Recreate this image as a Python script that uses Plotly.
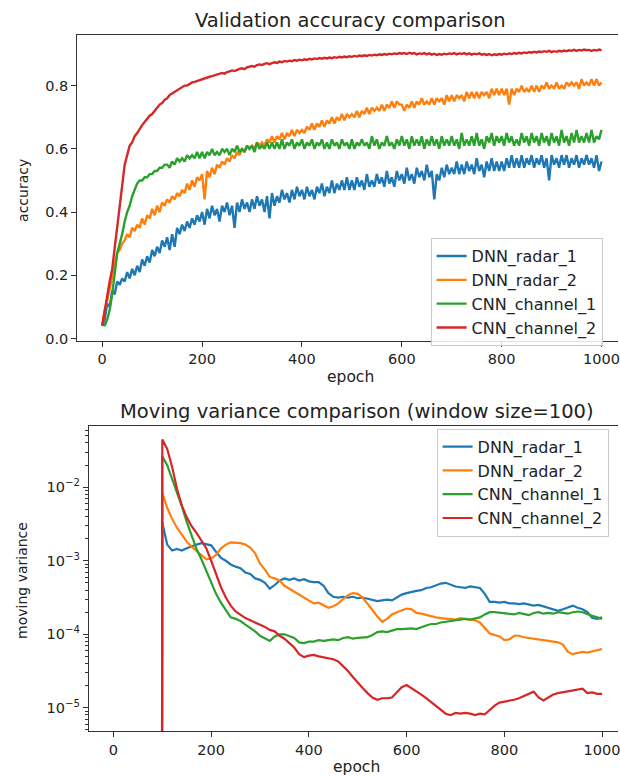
import plotly.graph_objects as go

# ---------------- data ----------------
series_names = ["DNN_radar_1", "DNN_radar_2", "CNN_channel_1", "CNN_channel_2"]
series_colors = ["#1f77b4", "#ff7f0e", "#2ca02c", "#d62728"]

acc_epochs = list(range(0, 1001, 5))

acc_dnn_radar_1 = [
    0.04, 0.06, 0.11, 0.10, 0.15, 0.14, 0.18, 0.17, 0.19, 0.18,
    0.21, 0.19, 0.22, 0.20, 0.23, 0.21, 0.25, 0.23, 0.26, 0.24,
    0.28, 0.26, 0.29, 0.27, 0.31, 0.29, 0.32, 0.28, 0.33, 0.29,
    0.35, 0.33, 0.36, 0.34, 0.37, 0.35, 0.38, 0.36, 0.39, 0.37,
    0.40, 0.36, 0.41, 0.38, 0.42, 0.39, 0.41, 0.37, 0.42, 0.40,
    0.43, 0.39, 0.42, 0.35, 0.43, 0.40, 0.44, 0.41, 0.43, 0.40,
    0.44, 0.41, 0.45, 0.42, 0.44, 0.40, 0.45, 0.38, 0.46, 0.42,
    0.45, 0.43, 0.47, 0.44, 0.46, 0.43, 0.47, 0.44, 0.48, 0.45,
    0.47, 0.44, 0.48, 0.45, 0.47, 0.44, 0.48, 0.46, 0.49, 0.45,
    0.48, 0.46, 0.50, 0.46, 0.49, 0.47, 0.50, 0.47, 0.51, 0.47,
    0.50, 0.47, 0.51, 0.48, 0.50, 0.47, 0.52, 0.48, 0.50, 0.48,
    0.52, 0.49, 0.51, 0.48, 0.53, 0.49, 0.51, 0.48, 0.53, 0.50,
    0.52, 0.49, 0.54, 0.50, 0.52, 0.49, 0.54, 0.51, 0.53, 0.50,
    0.55, 0.51, 0.53, 0.44, 0.52, 0.50, 0.54, 0.51, 0.55, 0.52,
    0.54, 0.52, 0.56, 0.52, 0.55, 0.52, 0.56, 0.53, 0.55, 0.52,
    0.57, 0.53, 0.55, 0.51, 0.56, 0.53, 0.57, 0.53, 0.56, 0.53,
    0.56, 0.53, 0.57, 0.54, 0.58, 0.54, 0.57, 0.54, 0.58, 0.54,
    0.57, 0.55, 0.58, 0.54, 0.57, 0.55, 0.58, 0.54, 0.57, 0.50,
    0.58, 0.55, 0.57, 0.54, 0.58, 0.55, 0.58, 0.54, 0.57, 0.55,
    0.58, 0.54, 0.57, 0.55, 0.58, 0.55, 0.57, 0.54, 0.58, 0.53,
    0.56,
]

acc_dnn_radar_2 = [
    0.04, 0.09, 0.12, 0.16, 0.20, 0.24, 0.27, 0.28, 0.30, 0.31,
    0.33, 0.32, 0.35, 0.34, 0.36, 0.35, 0.38, 0.36, 0.39, 0.38,
    0.41, 0.39, 0.42, 0.40, 0.43, 0.42, 0.44, 0.43, 0.45, 0.44,
    0.46, 0.45, 0.47, 0.46, 0.49, 0.47, 0.50, 0.48, 0.51, 0.50,
    0.52, 0.44, 0.53, 0.51, 0.54, 0.52, 0.55, 0.54, 0.56, 0.55,
    0.57, 0.56, 0.58, 0.57, 0.59, 0.58, 0.60, 0.59, 0.61, 0.60,
    0.61, 0.60, 0.62, 0.61, 0.62, 0.61, 0.63, 0.62, 0.64, 0.62,
    0.64, 0.63, 0.65, 0.63, 0.65, 0.64, 0.66, 0.64, 0.66, 0.65,
    0.66, 0.65, 0.67, 0.66, 0.68, 0.66, 0.68, 0.67, 0.69, 0.67,
    0.69, 0.68, 0.70, 0.68, 0.70, 0.69, 0.71, 0.69, 0.71, 0.70,
    0.71, 0.70, 0.72, 0.70, 0.72, 0.71, 0.73, 0.71, 0.73, 0.72,
    0.73, 0.72, 0.74, 0.72, 0.74, 0.73, 0.75, 0.73, 0.75, 0.74,
    0.74, 0.72, 0.74, 0.73, 0.75, 0.73, 0.75, 0.74, 0.76, 0.74,
    0.75, 0.74, 0.76, 0.74, 0.76, 0.75, 0.76, 0.74, 0.77, 0.75,
    0.77, 0.75, 0.77, 0.76, 0.77, 0.75, 0.78, 0.76, 0.78, 0.76,
    0.78, 0.76, 0.78, 0.77, 0.78, 0.76, 0.79, 0.77, 0.79, 0.77,
    0.79, 0.77, 0.79, 0.74, 0.79, 0.77, 0.79, 0.78, 0.80, 0.78,
    0.79, 0.78, 0.80, 0.78, 0.80, 0.78, 0.80, 0.79, 0.81, 0.79,
    0.80, 0.79, 0.81, 0.79, 0.80, 0.79, 0.81, 0.80, 0.81, 0.80,
    0.81, 0.79, 0.82, 0.80, 0.81, 0.80, 0.82, 0.80, 0.82, 0.80,
    0.81,
]

acc_cnn_channel_1 = [
    0.05, 0.04, 0.06, 0.09, 0.14, 0.21, 0.27, 0.30, 0.33, 0.37,
    0.40, 0.42, 0.45, 0.47, 0.49, 0.50, 0.50, 0.51, 0.51, 0.52,
    0.52, 0.53, 0.53, 0.54, 0.54, 0.55, 0.55, 0.54, 0.56, 0.55,
    0.57, 0.56, 0.57, 0.56, 0.58, 0.57, 0.58, 0.57, 0.59, 0.57,
    0.59, 0.57, 0.59, 0.58, 0.60, 0.58, 0.59, 0.58, 0.60, 0.59,
    0.60, 0.58, 0.60, 0.59, 0.61, 0.59, 0.60, 0.59, 0.61, 0.60,
    0.61, 0.59, 0.62, 0.60, 0.61, 0.60, 0.62, 0.60, 0.62, 0.60,
    0.62, 0.60, 0.63, 0.60, 0.62, 0.61, 0.63, 0.60, 0.62, 0.61,
    0.63, 0.60, 0.62, 0.61, 0.63, 0.60, 0.62, 0.61, 0.63, 0.60,
    0.62, 0.60, 0.63, 0.61, 0.62, 0.60, 0.63, 0.61, 0.62, 0.60,
    0.63, 0.60, 0.62, 0.61, 0.63, 0.61, 0.62, 0.60, 0.64, 0.61,
    0.63, 0.60, 0.62, 0.61, 0.64, 0.61, 0.62, 0.60, 0.63, 0.61,
    0.64, 0.61, 0.63, 0.60, 0.64, 0.61, 0.63, 0.61, 0.64, 0.60,
    0.63, 0.61, 0.64, 0.61, 0.63, 0.60, 0.64, 0.61, 0.63, 0.61,
    0.64, 0.61, 0.63, 0.60, 0.65, 0.61, 0.63, 0.61, 0.64, 0.61,
    0.65, 0.61, 0.63, 0.60, 0.64, 0.62, 0.65, 0.61, 0.64, 0.62,
    0.64, 0.61, 0.65, 0.62, 0.64, 0.61, 0.63, 0.61, 0.65, 0.62,
    0.64, 0.61, 0.65, 0.62, 0.64, 0.61, 0.65, 0.62, 0.64, 0.61,
    0.65, 0.62, 0.64, 0.61, 0.66, 0.62, 0.64, 0.61, 0.65, 0.62,
    0.66, 0.62, 0.64, 0.62, 0.65, 0.62, 0.66, 0.62, 0.64, 0.63,
    0.66,
]

acc_cnn_channel_2 = [
    0.04, 0.09, 0.14, 0.18, 0.22, 0.29, 0.36, 0.43, 0.50, 0.55,
    0.58, 0.61, 0.62, 0.64, 0.65, 0.665, 0.675, 0.685, 0.695, 0.705,
    0.71, 0.72, 0.73, 0.74, 0.745, 0.755, 0.76, 0.77, 0.775, 0.78,
    0.785, 0.79, 0.795, 0.80, 0.80, 0.805, 0.81, 0.812, 0.815, 0.817,
    0.82, 0.822, 0.826, 0.828, 0.83, 0.832, 0.835, 0.838, 0.84, 0.838,
    0.843, 0.845, 0.848, 0.846, 0.85, 0.853, 0.855, 0.852, 0.858, 0.86,
    0.862, 0.86, 0.865, 0.867, 0.865, 0.869, 0.871, 0.868, 0.872, 0.874,
    0.872, 0.876, 0.874, 0.878, 0.876, 0.879, 0.877, 0.881, 0.879, 0.882,
    0.88, 0.883, 0.881, 0.885, 0.883, 0.886, 0.884, 0.887, 0.885, 0.888,
    0.886, 0.889, 0.887, 0.89, 0.888, 0.891, 0.889, 0.892, 0.89, 0.893,
    0.891, 0.894, 0.892, 0.895, 0.893, 0.896, 0.894, 0.897, 0.895, 0.898,
    0.896, 0.899, 0.897, 0.9, 0.898, 0.901, 0.899, 0.902, 0.9, 0.903,
    0.901, 0.903, 0.9, 0.904, 0.901, 0.903, 0.899, 0.902, 0.9, 0.903,
    0.899, 0.902, 0.898, 0.901, 0.897, 0.9, 0.898, 0.901, 0.899, 0.902,
    0.9, 0.903, 0.899, 0.902, 0.9, 0.903, 0.899, 0.902, 0.898, 0.901,
    0.899, 0.902, 0.898, 0.9, 0.897, 0.9, 0.896, 0.899, 0.897, 0.9,
    0.898, 0.901, 0.899, 0.902, 0.9, 0.903, 0.901, 0.904, 0.902, 0.905,
    0.903, 0.906, 0.904, 0.907, 0.905, 0.908, 0.906, 0.909, 0.907, 0.91,
    0.906, 0.909, 0.907, 0.91, 0.908, 0.911, 0.909, 0.912, 0.91, 0.913,
    0.91, 0.913, 0.911, 0.914, 0.912, 0.913, 0.91, 0.913, 0.911, 0.914,
    0.912,
]

# moving variance (window 100): first point is the (near) zero value at epoch 99,
# the rest are log10 of the variance
var_epochs = [99] + list(range(100, 1001, 10))

log10_var_dnn_radar_1 = [
    -9.0,
    -2.48, -2.78, -2.86, -2.84, -2.86, -2.83, -2.80, -2.78, -2.76, -2.77,
    -2.79, -2.88, -2.96, -3.00, -3.05, -3.08, -3.10, -3.16, -3.18, -3.24,
    -3.26, -3.30, -3.38, -3.33, -3.27, -3.24, -3.26, -3.24, -3.27, -3.25,
    -3.28, -3.29, -3.29, -3.34, -3.44, -3.49, -3.50, -3.49, -3.50, -3.49,
    -3.51, -3.50, -3.52, -3.53, -3.55, -3.54, -3.53, -3.54, -3.50, -3.46,
    -3.44, -3.42, -3.41, -3.40, -3.37, -3.36, -3.33, -3.31, -3.30, -3.33,
    -3.35, -3.36, -3.37, -3.35, -3.36, -3.37, -3.45, -3.56, -3.56, -3.57,
    -3.56, -3.58, -3.58, -3.59, -3.58, -3.60, -3.61, -3.60, -3.62, -3.63,
    -3.66, -3.68, -3.66, -3.64, -3.61, -3.64, -3.66, -3.70, -3.78, -3.79,
    -3.77,
]

log10_var_dnn_radar_2 = [
    -9.0,
    -2.08, -2.28, -2.43, -2.55, -2.65, -2.74, -2.81, -2.87, -2.93, -2.98,
    -2.97, -2.92, -2.83, -2.78, -2.75, -2.75, -2.76, -2.78, -2.82, -2.90,
    -3.04, -3.12, -3.22, -3.24, -3.27, -3.34, -3.38, -3.42, -3.47, -3.50,
    -3.54, -3.58, -3.57, -3.61, -3.64, -3.62, -3.58, -3.52, -3.47, -3.44,
    -3.45, -3.50, -3.58, -3.67, -3.76, -3.83, -3.79, -3.73, -3.70, -3.68,
    -3.65, -3.66, -3.71, -3.72, -3.74, -3.75, -3.77, -3.78, -3.79, -3.80,
    -3.80, -3.78, -3.79, -3.80, -3.81, -3.84, -3.92, -3.99, -4.01, -4.03,
    -4.08, -4.07, -4.02, -4.02, -4.04, -4.05, -4.07, -4.08, -4.08, -4.09,
    -4.10, -4.11, -4.14, -4.24, -4.27, -4.26, -4.24, -4.25, -4.23, -4.22,
    -4.20,
]

log10_var_cnn_channel_1 = [
    -9.0,
    -1.58, -1.70, -1.88, -2.07, -2.26, -2.47, -2.67, -2.84, -2.98, -3.14,
    -3.30, -3.45, -3.57, -3.68, -3.77, -3.79, -3.82, -3.87, -3.91, -3.96,
    -4.02, -4.06, -4.09, -4.03, -4.00, -4.00, -4.02, -4.05, -4.11, -4.12,
    -4.10, -4.10, -4.08, -4.09, -4.08, -4.07, -4.08, -4.05, -4.04, -4.06,
    -4.05, -4.04, -4.04, -4.01, -3.97, -3.96, -3.97, -3.95, -3.93, -3.93,
    -3.92, -3.92, -3.93, -3.90, -3.88, -3.86, -3.86, -3.84, -3.83, -3.83,
    -3.82, -3.80, -3.79, -3.80, -3.79, -3.77, -3.73, -3.70, -3.70, -3.71,
    -3.72, -3.72, -3.73, -3.71, -3.72, -3.74, -3.71, -3.70, -3.72, -3.71,
    -3.72, -3.70, -3.71, -3.72, -3.70, -3.69, -3.70, -3.73, -3.75, -3.77,
    -3.79,
]

log10_var_cnn_channel_2 = [
    -9.0,
    -1.35, -1.48, -1.72, -2.02, -2.25, -2.41, -2.53, -2.62, -2.72, -2.83,
    -3.00, -3.18, -3.36, -3.50, -3.61, -3.69, -3.74, -3.78, -3.81, -3.84,
    -3.86, -3.90, -3.94, -3.96, -4.02, -4.06, -4.12, -4.18, -4.27, -4.31,
    -4.29, -4.28, -4.30, -4.31, -4.32, -4.34, -4.37, -4.43, -4.50, -4.58,
    -4.66, -4.73, -4.80, -4.86, -4.89, -4.87, -4.87, -4.86, -4.79, -4.72,
    -4.69, -4.73, -4.77, -4.82, -4.87, -4.92, -4.97, -5.03, -5.08, -5.10,
    -5.07, -5.08, -5.07, -5.08, -5.10, -5.08, -5.09, -5.03, -4.97, -4.93,
    -4.92, -4.90, -4.89, -4.87, -4.84, -4.80, -4.78, -4.86, -4.90, -4.86,
    -4.82, -4.80, -4.79, -4.77, -4.76, -4.75, -4.74, -4.80, -4.79, -4.81,
    -4.81,
]

acc_tick_vals = [0.0, 0.2, 0.4, 0.6, 0.8]
acc_tick_text = ["0.0", "0.2", "0.4", "0.6", "0.8"]
epoch_ticks = [0, 200, 400, 600, 800, 1000]
var_tick_vals = [1e-5, 1e-4, 1e-3, 1e-2]
var_tick_text = ["10<sup>\u22125</sup>", "10<sup>\u22124</sup>",
                 "10<sup>\u22123</sup>", "10<sup>\u22122</sup>"]
var_minor_tick_vals = [m * 10.0 ** e for e in range(-6, -1) for m in range(2, 10)]

acc_series = [acc_dnn_radar_1, acc_dnn_radar_2, acc_cnn_channel_1, acc_cnn_channel_2]
var_series = [log10_var_dnn_radar_1, log10_var_dnn_radar_2,
              log10_var_cnn_channel_1, log10_var_cnn_channel_2]

# ---------------- figure ----------------
W, H = 620, 780
FONT = "DejaVu Sans"
AX = "#333333"
TXT = "#222222"

fig = go.Figure()
for name, col, ys in zip(series_names, series_colors, acc_series):
    fig.add_trace(go.Scatter(x=acc_epochs, y=ys, mode="lines", name=name,
                             line=dict(color=col, width=2.4),
                             xaxis="x", yaxis="y", legend="legend"))
for name, col, ls in zip(series_names, series_colors, var_series):
    fig.add_trace(go.Scatter(x=var_epochs, y=[10 ** v for v in ls], mode="lines",
                             name=name, line=dict(color=col, width=2.2),
                             xaxis="x2", yaxis="y2", legend="legend2"))

def px_x(p):
    return p / W

def px_y(p):
    return 1 - p / H

common_axis = dict(showgrid=False, zeroline=False, showline=True, linecolor=AX,
                   linewidth=1.2, ticks="outside", ticklen=5, tickwidth=1.2,
                   tickcolor=AX, ticklabeloverflow="allow",
                   tickfont=dict(family=FONT, size=14.5, color=TXT))

fig.update_layout(
    width=W, height=H,
    margin=dict(l=0, r=0, t=0, b=0),
    paper_bgcolor="white", plot_bgcolor="white",
    font=dict(family=FONT, color=TXT),
    xaxis=dict(domain=[px_x(77.5), 1], range=[-50, 1033], tickvals=epoch_ticks,
               mirror=True, anchor="y", **common_axis),
    yaxis=dict(domain=[px_y(343.3), px_y(35)], range=[-0.007, 0.961],
               tickvals=acc_tick_vals, ticktext=acc_tick_text, anchor="x",
               **common_axis),
    xaxis2=dict(domain=[px_x(89.3), 1], range=[-50, 1032.6], tickvals=epoch_ticks,
                mirror=True, anchor="y2", **common_axis),
    yaxis2=dict(type="log", domain=[px_y(736.7), px_y(429)], range=[-5.316, -1.163],
                tickvals=var_tick_vals, ticktext=var_tick_text, anchor="x2",
                minor=dict(tickmode="array", tickvals=var_minor_tick_vals,
                           ticks="outside", ticklen=3, tickwidth=1, tickcolor=AX,
                           showgrid=False),
                **common_axis),
    legend=dict(x=px_x(432), y=px_y(240), xanchor="left", yanchor="top",
                bgcolor="rgba(255,255,255,0.85)", bordercolor="#cccccc", borderwidth=1,
                font=dict(family=FONT, size=16, color=TXT)),
    legend2=dict(x=px_x(438), y=px_y(432), xanchor="left", yanchor="top",
                 bgcolor="rgba(255,255,255,0.85)", bordercolor="#cccccc", borderwidth=1,
                 font=dict(family=FONT, size=16, color=TXT)),
    showlegend=True,
)

annotations = [
    dict(text="Validation accuracy comparison", x=px_x(352), y=px_y(21), size=19.5),
    dict(text="Moving variance comparison (window size=100)", x=px_x(358), y=px_y(415), size=19.5),
    dict(text="epoch", x=px_x(352), y=px_y(380), size=15.5),
    dict(text="epoch", x=px_x(358), y=px_y(773), size=15.5),
]
for a in annotations:
    fig.add_annotation(text=a["text"], x=a["x"], y=a["y"], xref="paper", yref="paper",
                       xanchor="center", yanchor="middle", showarrow=False,
                       font=dict(family=FONT, size=a["size"], color=TXT))
fig.add_annotation(text="accuracy", x=px_x(22.5), y=px_y(192), xref="paper", yref="paper",
                   textangle=-90, showarrow=False, xanchor="center", yanchor="middle",
                   font=dict(family=FONT, size=14, color=TXT))
fig.add_annotation(text="moving variance", x=px_x(21.5), y=px_y(585), xref="paper", yref="paper",
                   textangle=-90, showarrow=False, xanchor="center", yanchor="middle",
                   font=dict(family=FONT, size=14, color=TXT))

# remove the default 8px page margin so the 620x780 figure fills the window exactly
fig.write_html("out.html", config={"displayModeBar": False},
               post_script="document.body.style.margin='0';"
               "document.body.style.overflow='hidden';")
